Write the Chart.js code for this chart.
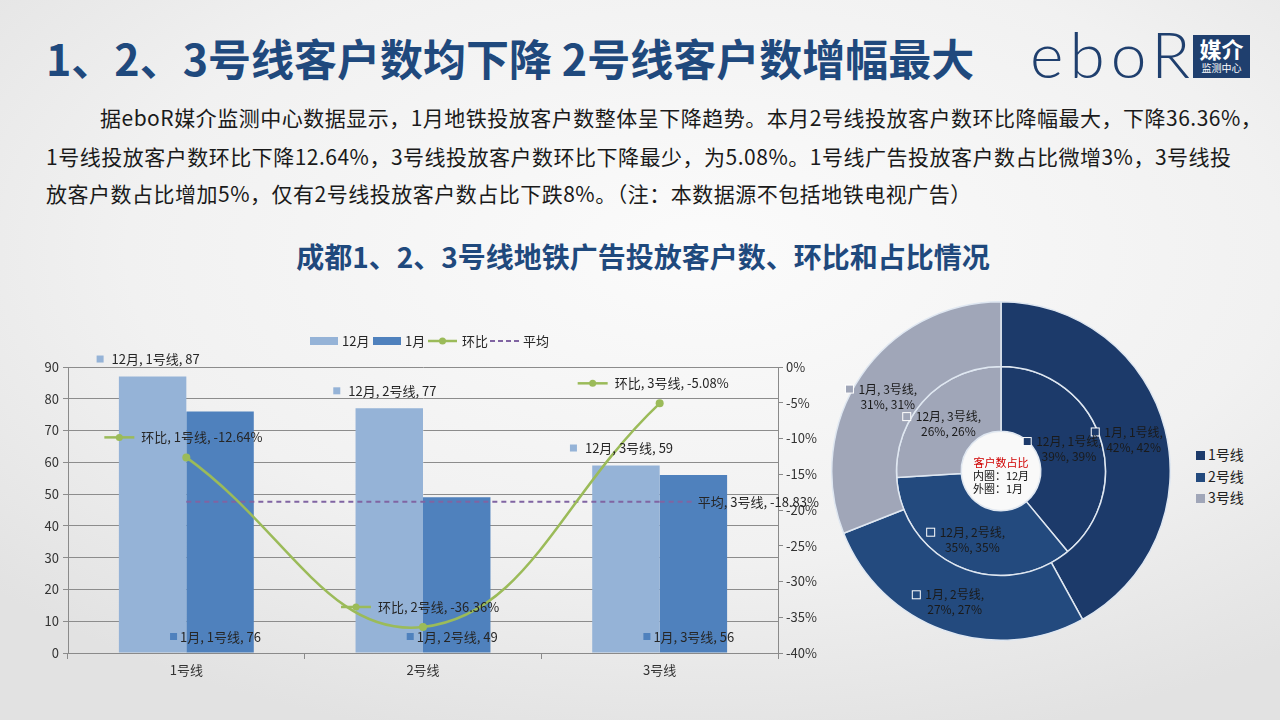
<!DOCTYPE html>
<html>
<head>
<meta charset="utf-8">
<script src="https://cdn.jsdelivr.net/npm/chart.js@4"></script>
<style>
  body { margin: 0; }
  #slide {
    position: relative; width: 1280px; height: 720px; overflow: hidden;
    background: radial-gradient(ellipse 75% 70% at 55% 35%, #fbfbfb 0%, #f1f1f1 60%, #e2e2e2 100%);
    font-family: "Noto Sans CJK SC", sans-serif; color: #222;
  }
  .abs { position: absolute; white-space: nowrap; }
  #title { left: 46px; top: 27px; font-size: 43px; font-weight: bold; color: #1f497d; line-height: 60px; }
  .para { font-size: 21px; line-height: 30px; color: #1a1a1a; letter-spacing: 0.5px; }
  #sub { left: 0; width: 1286px; top: 236px; text-align: center; font-size: 28px; font-weight: bold; color: #1f497d; line-height: 40px; }
  #logo { left: 1030px; top: 22px; font-family: Lato, sans-serif; font-weight: 300; font-size: 64px; color: #1f3f6e; line-height: 64px; letter-spacing: 6px; }
  #logobox { left: 1193px; top: 35px; width: 57px; height: 43px; background: #1f3f6e; color: #fff; text-align: center; }
  #logobox .a { font-size: 22px; font-weight: bold; line-height: 26px; }
  #logobox .b { font-size: 10px; line-height: 14px; }
  #barWrap { left: 20px; top: 325px; width: 810px; height: 365px; }
  #pieWrap { left: 831px; top: 301px; width: 340px; height: 340px; }
  .lg { font-size: 14px; color: #222; line-height: 20px; }
  .lg span { display: inline-block; width: 9px; height: 9px; margin-right: 3px; vertical-align: 0px; }
</style>
</head>
<body>
<div id="slide">
  <div id="title" class="abs">1、2、3号线客户数均下降 2号线客户数增幅最大</div>
  <div id="logo" class="abs">eboR</div>
  <div id="logobox" class="abs"><div class="a">媒介</div><div class="b">监测中心</div></div>
  <div class="abs para" style="left:100px; top:102px;">据eboR媒介监测中心数据显示，1月地铁投放客户数整体呈下降趋势。本月2号线投放客户数环比降幅最大，下降36.36%，</div>
  <div class="abs para" style="left:46px; top:141px;">1号线投放客户数环比下降12.64%，3号线投放客户数环比下降最少，为5.08%。1号线广告投放客户数占比微增3%，3号线投</div>
  <div class="abs para" style="left:46px; top:178px;">放客户数占比增加5%，仅有2号线投放客户数占比下跌8%。（注：本数据源不包括地铁电视广告）</div>
  <div id="sub" class="abs">成都1、2、3号线地铁广告投放客户数、环比和占比情况</div>
  <div id="barWrap" class="abs"><canvas id="barChart"></canvas></div>
  <div id="pieWrap" class="abs"><canvas id="pieChart"></canvas></div>
  <div class="abs lg" style="left:1196px; top:444px;"><span style="background:#1c3a6a"></span>1号线</div>
  <div class="abs lg" style="left:1196px; top:466px;"><span style="background:#234a7e"></span>2号线</div>
  <div class="abs lg" style="left:1196px; top:487px;"><span style="background:#a0a6b8"></span>3号线</div>
</div>
<script>
// data
var categories = ['1号线', '2号线', '3号线'];
var seriesNames = ['12月', '1月', '环比', '平均'];
var dec = [87, 77, 59];            // 12月 客户数
var jan = [76, 49, 56];            // 1月 客户数
var mom = [-12.64, -36.36, -5.08]; // 环比 %
var avg = [-18.83, -18.83, -18.83]; // 平均 %
var leftTicks = [0, 90, 10];       // min, max, step
var rightTicks = [-40, 0, 5];
var shareDec = [39, 35, 26];       // 内圈 12月 占比
var shareJan = [42, 27, 31];       // 外圈 1月 占比
var lineColors = ['#1c3a6a', '#234a7e', '#a0a6b8'];

var FONT = '"Noto Sans CJK SC", sans-serif';
Chart.defaults.font.family = FONT;
Chart.defaults.color = '#333';

// labels + legend for the combo chart
var barLabels = {
  id: 'barLabels',
  afterDatasetsDraw: function(chart) {
    var ctx = chart.ctx;
    var bottom = chart.chartArea.bottom;
    ctx.save();
    ctx.font = '13px ' + FONT;
    ctx.textBaseline = 'middle';
    chart.getDatasetMeta(0).data.forEach(function(b, i) {
      ctx.fillStyle = '#95b3d7';
      ctx.fillRect(b.x - 56, b.y - 21, 7, 7);
      ctx.fillStyle = '#262626';
      ctx.fillText(seriesNames[0] + ', ' + categories[i] + ', ' + dec[i], b.x - 41, b.y - 17);
    });
    chart.getDatasetMeta(1).data.forEach(function(b, i) {
      ctx.fillStyle = '#4f81bd';
      ctx.fillRect(b.x - 50, bottom - 20, 7, 7);
      ctx.fillStyle = '#262626';
      ctx.fillText(seriesNames[1] + ', ' + categories[i] + ', ' + jan[i], b.x - 40, bottom - 16);
    });
    chart.getDatasetMeta(2).data.forEach(function(p, i) {
      var y = p.y - 20;
      ctx.strokeStyle = '#9bbb59';
      ctx.lineWidth = 2.5;
      ctx.beginPath(); ctx.moveTo(p.x - 82, y); ctx.lineTo(p.x - 52, y); ctx.stroke();
      ctx.fillStyle = '#9bbb59';
      ctx.beginPath(); ctx.arc(p.x - 67, y, 3.5, 0, Math.PI * 2); ctx.fill();
      ctx.fillStyle = '#262626';
      ctx.fillText(seriesNames[2] + ', ' + categories[i] + ', ' + mom[i].toFixed(2) + '%', p.x - 45, y);
    });
    var pm = chart.getDatasetMeta(3).data;
    var p = pm[pm.length - 1];
    ctx.strokeStyle = '#8064a2';
    ctx.lineWidth = 2;
    ctx.setLineDash([5, 4]);
    ctx.beginPath(); ctx.moveTo(p.x, p.y); ctx.lineTo(p.x + 33, p.y); ctx.stroke();
    ctx.setLineDash([]);
    ctx.fillStyle = '#262626';
    ctx.fillText(seriesNames[3] + ', ' + categories[2] + ', ' + avg[2].toFixed(2) + '%', p.x + 38, p.y);

    // legend
    var ly = 16, ox = -20;
    ctx.fillStyle = '#95b3d7'; ctx.fillRect(310 + ox, ly - 4, 28, 8);
    ctx.fillStyle = '#262626'; ctx.fillText(seriesNames[0], 342 + ox, ly);
    ctx.fillStyle = '#4f81bd'; ctx.fillRect(373 + ox, ly - 4, 28, 8);
    ctx.fillStyle = '#262626'; ctx.fillText(seriesNames[1], 405 + ox, ly);
    ctx.strokeStyle = '#9bbb59'; ctx.lineWidth = 2.5;
    ctx.beginPath(); ctx.moveTo(428 + ox, ly); ctx.lineTo(457 + ox, ly); ctx.stroke();
    ctx.fillStyle = '#9bbb59'; ctx.beginPath(); ctx.arc(442.5 + ox, ly, 3.5, 0, Math.PI * 2); ctx.fill();
    ctx.fillStyle = '#262626'; ctx.fillText(seriesNames[2], 462 + ox, ly);
    ctx.strokeStyle = '#8064a2'; ctx.lineWidth = 2; ctx.setLineDash([5, 3]);
    ctx.beginPath(); ctx.moveTo(490 + ox, ly); ctx.lineTo(519 + ox, ly); ctx.stroke();
    ctx.setLineDash([]);
    ctx.fillStyle = '#262626'; ctx.fillText(seriesNames[3], 523 + ox, ly);
    ctx.restore();
  }
};

new Chart(document.getElementById('barChart'), {
  type: 'bar',
  data: {
    labels: categories,
    datasets: [
      { label: seriesNames[0], data: dec, backgroundColor: '#95b3d7', yAxisID: 'y', order: 2,
        barPercentage: 1, categoryPercentage: 0.57 },
      { label: seriesNames[1], data: jan, backgroundColor: '#4f81bd', yAxisID: 'y', order: 2,
        barPercentage: 1, categoryPercentage: 0.57 },
      { type: 'line', label: seriesNames[2], data: mom, yAxisID: 'y2', order: 1,
        borderColor: '#9bbb59', backgroundColor: '#9bbb59', borderWidth: 2.5,
        tension: 0.42, pointRadius: 4, pointBackgroundColor: '#9bbb59', pointBorderWidth: 0, clip: false },
      { type: 'line', label: seriesNames[3], data: avg, yAxisID: 'y2', order: 1,
        borderColor: '#8064a2', borderWidth: 2, borderDash: [5, 4], pointRadius: 0 }
    ]
  },
  options: {
    responsive: true,
    maintainAspectRatio: false,
    animation: false,
    layout: { padding: { top: 42, left: 0, right: 0, bottom: 0 } },
    plugins: { legend: { display: false }, tooltip: { enabled: false } },
    scales: {
      x: {
        afterFit: function(s) { s.height = 37; },
        grid: { offset: true, drawOnChartArea: false, tickLength: 6, color: '#8a8a8a' },
        border: { color: '#8a8a8a' },
        ticks: { font: { size: 13 }, color: '#333', padding: 3 }
      },
      y: {
        position: 'left', min: leftTicks[0], max: leftTicks[1],
        afterFit: function(s) { s.width = 48; },
        grid: { color: '#8c8c8c', tickLength: 5 },
        border: { color: '#8a8a8a' },
        ticks: { stepSize: leftTicks[2], font: { size: 13 }, color: '#333', padding: 4 }
      },
      y2: {
        position: 'right', min: rightTicks[0], max: rightTicks[1],
        afterFit: function(s) { s.width = 52; },
        grid: { drawOnChartArea: false, color: '#8a8a8a', tickLength: 5 },
        border: { color: '#8a8a8a' },
        ticks: { stepSize: rightTicks[2], font: { size: 13 }, color: '#333', padding: 3,
          callback: function(v) { return v + '%'; } }
      }
    }
  },
  plugins: [barLabels]
});

// labels for the doughnut
var pieLabels = {
  id: 'pieLabels',
  afterDatasetsDraw: function(chart) {
    var ctx = chart.ctx;
    ctx.save();
    var m0 = chart.getDatasetMeta(0).data[0];
    // hole
    ctx.fillStyle = '#f9f9f9';
    ctx.beginPath(); ctx.arc(m0.x, m0.y, chart.getDatasetMeta(1).data[0].innerRadius - 1, 0, Math.PI * 2); ctx.fill();
    ctx.textAlign = 'center';
    ctx.textBaseline = 'middle';
    ctx.font = '11px ' + FONT;
    ctx.fillStyle = '#d00000';
    ctx.fillText('客户数占比', m0.x, m0.y - 8);
    ctx.fillStyle = '#111';
    ctx.fillText('内圈：12月', m0.x, m0.y + 5);
    ctx.fillText('外圈：1月', m0.x - 3, m0.y + 18);

    ctx.font = '12px ' + FONT;
    [[0, '1月', shareJan], [1, '12月', shareDec]].forEach(function(d) {
      chart.getDatasetMeta(d[0]).data.forEach(function(arc, i) {
        var c = arc.getCenterPoint();
        var l1 = d[1] + ', ' + categories[i] + ',';
        var l2 = d[2][i] + '%, ' + d[2][i] + '%';
        var w = ctx.measureText(l1).width;
        var y1 = c.y - 5;
        ctx.fillStyle = lineColors[i];
        ctx.fillRect(c.x - w / 2 - 13, y1 - 4, 8, 8);
        ctx.strokeStyle = '#fff'; ctx.lineWidth = 1;
        ctx.strokeRect(c.x - w / 2 - 13, y1 - 4, 8, 8);
        ctx.fillStyle = '#1a1a1a';
        ctx.fillText(l1, c.x, y1);
        ctx.fillText(l2, c.x, y1 + 15);
      });
    });
    ctx.restore();
  }
};

new Chart(document.getElementById('pieChart'), {
  type: 'doughnut',
  data: {
    labels: categories,
    datasets: [
      { label: '1月', data: shareJan, backgroundColor: lineColors, borderColor: '#dfe7f1', borderWidth: 1.5 },
      { label: '12月', data: shareDec, backgroundColor: lineColors, borderColor: '#dfe7f1', borderWidth: 1.5 }
    ]
  },
  options: {
    responsive: true,
    maintainAspectRatio: false,
    animation: false,
    cutout: '23.5%',
    plugins: { legend: { display: false }, tooltip: { enabled: false } }
  },
  plugins: [pieLabels]
});
</script>
</body>
</html>
